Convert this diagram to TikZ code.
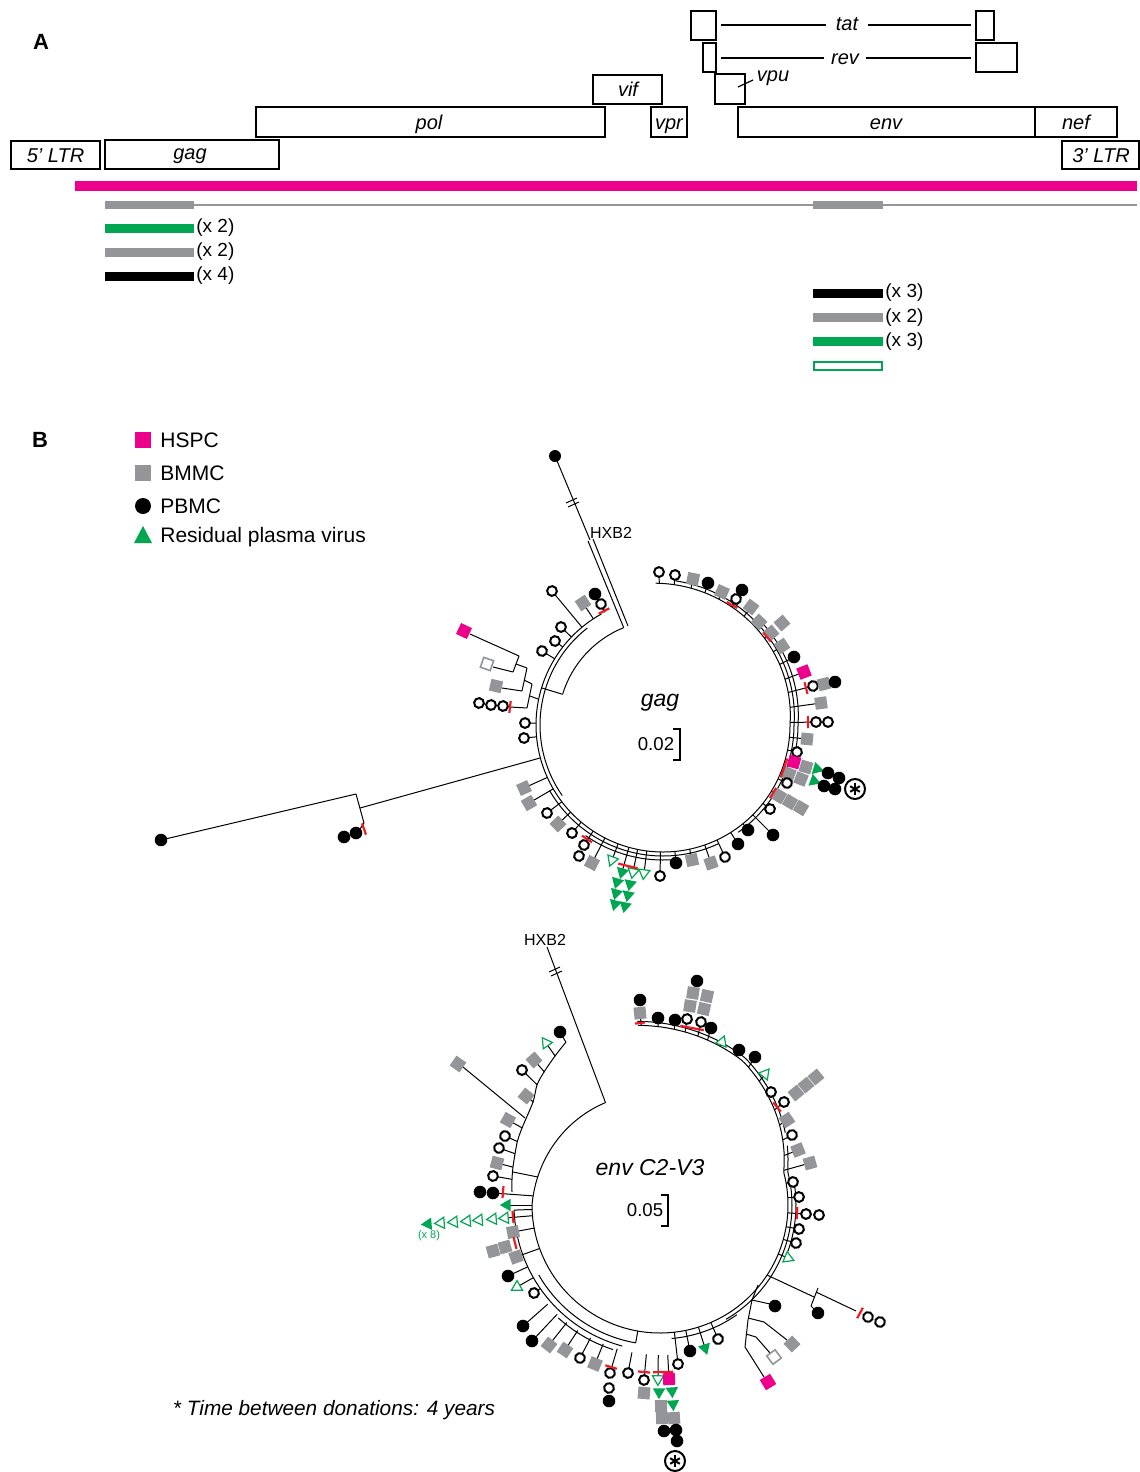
\documentclass[tikz,border=0pt]{standalone}
\usepackage{fontspec}
\setmainfont{Liberation Sans}
\usetikzlibrary{calc,shapes.geometric}
\definecolor{hspc}{HTML}{EC008C}
\definecolor{bmg}{HTML}{939598}
\definecolor{grn}{HTML}{00A651}
\definecolor{rtk}{HTML}{ED1C24}
\tikzset{
  br/.style={line width=0.5pt, black},
  boxln/.style={line width=1pt, black},
  redtk/.style={line width=1.1pt, rtk},
  symb/.style={inner sep=0pt, outer sep=0pt},
  pb/.style={symb, circle, fill=black, minimum size=6.3pt},
  opb/.style={symb, circle, draw=black, fill=white, line width=1pt, minimum size=4.9pt},
  bm/.style={symb, rectangle, fill=bmg, minimum size=6pt},
  obm/.style={symb, rectangle, draw=bmg, fill=white, line width=0.8pt, minimum size=5.2pt},
  hs/.style={symb, rectangle, fill=hspc, minimum size=6pt},
  tri/.style={symb, regular polygon, regular polygon sides=3, shape border rotate=-90, fill=grn, minimum size=7.2pt},
  otri/.style={symb, regular polygon, regular polygon sides=3, shape border rotate=-90, draw=grn, fill=white, line width=0.6pt, minimum size=6.4pt},
  glab/.style={font=\fontsize{10}{12}\selectfont\itshape, inner sep=0pt, anchor=base},
  xlab/.style={font=\fontsize{9.5}{11}\selectfont, inner sep=0pt, anchor=west},
  leg/.style={font=\fontsize{10.5}{12}\selectfont, inner sep=0pt, anchor=base west},
  panel/.style={font=\fontsize{11}{12}\selectfont\bfseries, inner sep=0pt},
}
% leaf with stalk from backbone function bb
\newcommand\leafS[3]{%
  \draw[br] let \p1=($(#2,#3)-(ctr)$), \n1={atan2(\y1,\x1)}, \n2={-1*(\n1)},
    \n3={(\n2<-100)*360+\n2}, \n5={bb(\n3)*0.5} in
    ($(ctr)+(\n1:\n5*1pt)$) -- (#2,#3) node[#1, rotate=\n1] {};}
% leaf with stalk from given radius
\newcommand\leafR[4]{%
  \draw[br] let \p1=($(#3,#4)-(ctr)$), \n1={atan2(\y1,\x1)} in
    ($(ctr)+(\n1:#1*0.5pt)$) -- (#3,#4) node[#2, rotate=\n1] {};}
% leaf symbol only
\newcommand\leafN[3]{%
  \path let \p1=($(#2,#3)-(ctr)$), \n1={atan2(\y1,\x1)} in
    (#2,#3) node[#1, rotate=\n1] {};}
% red tick, tangential
\newcommand\rtick[3]{%
  \draw[redtk] let \p1=($(#1,#2)-(ctr)$), \n1={atan2(\y1,\x1)+90} in
    ($(#1,#2)+(\n1:#3*0.5pt)$) -- ($(#1,#2)+(\n1+180:#3*0.5pt)$);}
% asterisk in circle
\newcommand\astk[2]{%
  \node[circle, draw, line width=1pt, minimum size=10pt, inner sep=0pt] at (#1,#2) {};
  \foreach \a in {90,30,150} \draw[line width=1pt] ($(#1,#2)+(\a:2.8pt)$) -- ($(#1,#2)+(\a+180:2.8pt)$);}

\begin{document}
\begin{tikzpicture}[x=0.5pt,y=-0.5pt]
\useasboundingbox (0,0) rectangle (1140,1472);
\fill[white] (0,0) rectangle (1140,1472);

%% ---------------- Panel A ----------------
\node[panel] (labA) at (41,42) {A};
\draw[boxln] (11,141) rectangle (100,169);
\node[glab] (tLTR5) at (55.5,162) {5’ LTR};
\draw[boxln] (105,140) rectangle (279,169);
\node[glab] (tgag) at (190,159) {gag};
\draw[boxln] (256,107) rectangle (605,137);
\node[glab] (tpol) at (429,129) {pol};
\draw[boxln] (593,75) rectangle (662,104);
\node[glab] (tvif) at (628,96) {vif};
\draw[boxln] (651,107) rectangle (687,137);
\node[glab] (tvpr) at (669,129) {vpr};
\draw[boxln] (715,74) rectangle (745,104);
\node[glab] (tvpu) at (773,81) {vpu};
\draw[line width=0.6pt] (753,80) -- (738,87);
\draw[boxln] (691,11) rectangle (716,40);
\draw[boxln] (976,11) rectangle (994,40);
\draw[line width=0.7pt] (721,25) -- (826,25);
\draw[line width=0.7pt] (868,25) -- (971,25);
\node[glab] (ttat) at (847,31) {tat};
\draw[boxln] (703,43) rectangle (716,72);
\draw[boxln] (976,43) rectangle (1017,72);
\draw[line width=0.7pt] (721,58) -- (824,58);
\draw[line width=0.7pt] (866,58) -- (971,58);
\node[glab] (trev) at (845,64) {rev};
\draw[boxln] (738,107) rectangle (1035,137);
\node[glab] (tenv) at (886,129) {env};
\draw[boxln] (1035,107) rectangle (1117,137);
\node[glab] (tnef) at (1076,129) {nef};
\draw[boxln] (1062,141) rectangle (1139,169);
\node[glab] (tLTR3) at (1101,162) {3’ LTR};

\fill[hspc] (75,181) rectangle (1137,191);
\draw[bmg, line width=0.8pt] (194,205) -- (1137,205);
\fill[bmg] (105,201) rectangle (194,209);
\fill[bmg] (813,201) rectangle (883,209);

\fill[grn] (105,224) rectangle (194,233);
\node[xlab] (l1) at (196,228) {(x 2)};
\fill[bmg] (105,248) rectangle (194,257);
\node[xlab] (l2) at (196,252) {(x 2)};
\fill[black] (105,272) rectangle (194,281);
\node[xlab] (l3) at (196,276) {(x 4)};

\fill[black] (813,289) rectangle (883,298);
\node[xlab] (r1) at (885,293) {(x 3)};
\fill[bmg] (813,313) rectangle (883,322);
\node[xlab] (r2) at (885,318) {(x 2)};
\fill[grn] (813,337) rectangle (883,346);
\node[xlab] (r3) at (885,342) {(x 3)};
\draw[grn, line width=1pt] (814,362) rectangle (882,370);

%% ---------------- Panel B legend ----------------
\node[panel] (labB) at (40,440) {B};
\node[symb, rectangle, fill=hspc, minimum size=8pt] (lg1) at (143,440) {};
\node[leg] (lt1) at (160,447) {HSPC};
\node[symb, rectangle, fill=bmg, minimum size=8pt] (lg2) at (143,473) {};
\node[leg] (lt2) at (160,480) {BMMC};
\node[symb, circle, fill=black, minimum size=8pt] (lg3) at (143,506) {};
\node[leg] (lt3) at (160,513) {PBMC};
\fill[grn] (134,543) -- (152,543) -- (143,526) -- cycle;
\node[leg] (lt4) at (160,542) {Residual plasma virus};

%% ---------------- gag tree ----------------
\begin{scope}[declare function={bb(\t)=127+15*max(0,0-(\t))/93;}]
\coordinate (ctr) at (663,725);
\draw[br] plot[domain=-93:241, samples=160, smooth, variable=\t] ({663+bb(\t)*cos(\t)},{725+bb(\t)*sin(\t)});
\draw[br] plot[domain=-85:55, samples=60, smooth, variable=\t] ({663+(bb(\t)+4)*cos(\t)},{725+(bb(\t)+4)*sin(\t)});
\draw[br] plot[domain=65:150, samples=40, smooth, variable=\t] ({663+(bb(\t)+4)*cos(\t)},{725+(bb(\t)+4)*sin(\t)});
\draw[br] plot[domain=-45:15, samples=30, smooth, variable=\t] ({663+(bb(\t)+8)*cos(\t)},{725+(bb(\t)+8)*sin(\t)});
\draw[br] plot[domain=85:125, samples=20, smooth, variable=\t] ({663+(bb(\t)+8)*cos(\t)},{725+(bb(\t)+8)*sin(\t)});
\draw[br] plot[domain=145:232, samples=40, smooth, variable=\t] ({663+(bb(\t)-4)*cos(\t)},{725+(bb(\t)-4)*sin(\t)});
% inner clade arc and HXB2
\draw[br] (ctr) ++(197:105) arc[start angle=197, end angle=248, radius=105];
\draw[br] ($(ctr)+(197:105)$) -- ($(ctr)+(197:127)$);
\draw[br] (623.7,627.6) -- (588,541);
\draw[br] (628,626) -- (593,539);
\draw[br] (590,540) -- (555,456);
\draw[br] (566,503) -- (577,498);
\draw[br] (568,507) -- (579,502);
\node[symb, circle, fill=black, minimum size=6pt] (gHXdot) at (555,456) {};
\node[font=\fontsize{8}{9}\selectfont, inner sep=0pt] (gHX) at (611,533) {HXB2};
% left subtree
\draw[br] (530,696) -- (538,699);
\draw[br] (532,684) -- (527,708);
\draw[br] (510,707) -- (527,708);
\draw[br] (527,668) -- (522,691);
\draw[br] (524,680) -- (532,684);
\draw[br] (502,688) -- (522,691);
\draw[br] (519,656) -- (513,672);
\draw[br] (516,664) -- (527,668);
\draw[br] (470,634) -- (519,656);
\draw[br] (493,667) -- (513,672);
\leafN{hs}{464}{631}
\leafN{obm}{487}{664}
\leafN{bm}{496}{686}
\leafN{opb}{503}{706}
\leafN{opb}{491}{705}
\leafN{opb}{479}{703}
\rtick{510}{707}{6}
% long branch
\draw[br] (540,758) -- (360,808);
\draw[br] (356,794) -- (364,823);
\draw[br] (356,794) -- (161,840);
\draw[br] (364,823) -- (358,832);
\leafN{pb}{161}{840}
\leafN{pb}{356}{833}
\leafN{pb}{344}{837}
\rtick{364}{829}{6}
% leaves
\leafS{opb}{659}{572}
\leafS{opb}{675}{575}
\leafS{bm}{693}{579}
\leafS{pb}{708}{583}
\leafS{bm}{722}{592}
\leafS{pb}{742}{590}
\leafS{opb}{736}{599}
\leafS{bm}{751}{607}
\leafS{bm}{759}{622}
\leafS{bm}{771}{633}
\leafN{bm}{782}{623}
\leafS{bm}{782}{646}
\leafS{pb}{794}{657}
\leafS{hs}{804}{672}
\leafS{opb}{813}{686}
\leafN{bm}{824}{684}
\leafN{pb}{835}{682}
\leafS{bm}{821}{703}
\leafS{opb}{816}{722}
\leafN{opb}{828}{722}
\leafS{bm}{807}{739}
\leafS{opb}{797}{752}
\leafS{hs}{794}{762}
\leafS{bm}{789}{774}
\leafN{bm}{806}{767}
\leafN{bm}{801}{779}
\leafN{tri}{817}{769}
\leafN{tri}{814}{781}
\leafN{pb}{828}{773}
\leafN{pb}{839}{778}
\leafN{pb}{824}{786}
\leafN{pb}{835}{789}
\astk{855}{789}
\leafS{opb}{787}{783}
\leafS{bm}{779}{796}
\leafN{bm}{790}{802}
\leafN{bm}{801}{808}
\leafS{opb}{770}{809}
\leafS{pb}{773}{835}
\leafS{pb}{748}{830}
\leafS{pb}{738}{844}
\leafS{opb}{725}{857}
\leafS{bm}{711}{863}
\leafS{bm}{692}{860}
\leafS{pb}{676}{863}
\leafS{opb}{660}{876}
\leafS{otri}{644}{873}
\leafS{otri}{633}{872}
\leafS{tri}{622}{872}
\leafN{tri}{630}{884}
\leafN{tri}{617}{882}
\leafN{tri}{628}{895}
\leafN{tri}{616}{893}
\leafN{tri}{625}{906}
\leafN{tri}{615}{904}
\leafS{otri}{612}{860}
\leafS{bm}{592}{863}
\leafS{opb}{584}{845}
\leafN{opb}{579}{856}
\leafS{opb}{572}{833}
\leafS{bm}{558}{824}
\leafS{opb}{547}{813}
\leafS{bm}{529}{803}
\leafS{bm}{524}{788}
\leafS{opb}{524}{738}
\leafS{opb}{525}{723}
\leafS{opb}{542}{651}
\leafS{opb}{555}{641}
\leafS{opb}{561}{627}
\leafS{opb}{552}{591}
\leafS{bm}{583}{603}
\leafS{pb}{595}{594}
\leafS{opb}{601}{604}
% red ticks
\rtick{732}{605}{6}
\rtick{767}{637}{6}
\rtick{806}{688}{6}
\rtick{808}{722}{6}
\rtick{784}{768}{10}
\rtick{773}{793}{6}
\rtick{628}{866}{10}
\rtick{587}{839}{6}
\rtick{604}{611}{6}
\end{scope}
\node[font=\fontsize{11.5}{13}\selectfont\itshape, inner sep=0pt] (gagT) at (660,703) {gag};
\node[font=\fontsize{9.3}{11}\selectfont, inner sep=0pt] (gagS) at (656,744) {0.02};
\draw[line width=0.6pt] (673,729) -- (680,729) -- (680,760) -- (673,760);

%% ---------------- env tree ----------------
\begin{scope}[declare function={bb(\t)=ifthenelse(\t<-60,181-(\t+97)*15/37,ifthenelse(\t<-15,166-(\t+60)*38/45,ifthenelse(\t<180,128,128-(\t-180)*12/62)));}]
\coordinate (ctr) at (660,1205);
\draw[br] plot[domain=-97:242, samples=170, smooth, variable=\t] ({660+bb(\t)*cos(\t)},{1205+bb(\t)*sin(\t)});
\draw[br] plot[domain=-97:-30, samples=40, smooth, variable=\t] ({660+(bb(\t)+4)*cos(\t)},{1205+(bb(\t)+4)*sin(\t)});
\draw[br] plot[domain=-25:60, samples=40, smooth, variable=\t] ({660+(bb(\t)+4)*cos(\t)},{1205+(bb(\t)+4)*sin(\t)});
\draw[br] plot[domain=-12:20, samples=20, smooth, variable=\t] ({660+(bb(\t)+8)*cos(\t)},{1205+(bb(\t)+8)*sin(\t)});
\draw[br] (ctr) ++(100:140) arc[start angle=100, end angle=150, radius=140];
\draw[br] ($(ctr)+(100:128)$) -- ($(ctr)+(100:140)$);
\draw[br] (ctr) ++(105:146) arc[start angle=105, end angle=178, radius=146];
\draw[br] ($(ctr)+(178:128)$) -- ($(ctr)+(178:146)$);
\draw[br] (ctr) ++(108:152) arc[start angle=108, end angle=132, radius=152];
\draw[br] (ctr) ++(55:134) arc[start angle=55, end angle=85, radius=134];
% HXB2
\draw[br] (605.5,1102.6) -- (547,947);
\draw[br] (549,972) -- (560,967);
\draw[br] (551,976) -- (562,971);
\node[font=\fontsize{8}{9}\selectfont, inner sep=0pt] (eHX) at (545,940) {HXB2};
% left clade
\draw[br] plot[smooth] coordinates {(512,1192) (512,1179) (513,1167) (515,1154) (517.5,1141) (522,1128) (533,1102) (537,1085) (544,1072) (555,1056) (566,1042)};
\draw[br] (513,1172) -- (538,1177);
\draw[br] (525,1118) -- (463,1067);
\leafN{bm}{458}{1064}
\leafR{150}{opb}{493}{1176}
\leafR{152}{bm}{497}{1163}
\leafR{154}{opb}{499}{1148}
\leafR{156}{opb}{505}{1136}
\leafR{158}{bm}{508}{1120}
\leafR{163}{bm}{526}{1096}
\leafR{172}{opb}{522}{1070}
\leafR{176}{bm}{534}{1060}
\leafR{182}{otri}{546}{1043}
\leafR{188}{pb}{560}{1032}
% right subtree
\draw[br] (767,1275) -- (814,1297);
\draw[br] (818,1288) -- (811,1306);
\draw[br] (816,1292) -- (856,1311);
\draw[br] (811,1306) -- (816,1311);
\leafN{opb}{868}{1317}
\leafN{opb}{880}{1322}
\leafN{pb}{818}{1313}
% bottom-right subtree
\draw[br] (758,1285) -- (752,1300) -- (748,1320) -- (745,1347);
\draw[br] (752,1300) -- (770,1304);
\draw[br] (748,1318) -- (764,1322) -- (787,1340);
\draw[br] (746,1334) -- (756,1337) -- (770,1353);
\draw[br] (745,1347) -- (764,1377);
\leafN{pb}{775}{1306}
\leafN{bm}{792}{1344}
\leafN{obm}{774}{1357}
\leafN{hs}{768}{1382}
% top-right leaves
\leafS{bm}{640}{1013}
\leafN{pb}{640}{1000}
\leafS{pb}{658}{1018}
\leafS{pb}{675}{1020}
\leafS{opb}{687}{1019}
\leafS{opb}{701}{1022}
\leafN{bm}{690}{1006}
\leafN{bm}{704}{1009}
\leafN{bm}{693}{993}
\leafN{bm}{707}{996}
\leafN{pb}{697}{981}
\leafS{pb}{711}{1028}
\leafS{otri}{722}{1042}
\leafS{pb}{739}{1050}
\leafS{pb}{755}{1057}
\leafS{otri}{765}{1074}
\leafS{opb}{771}{1092}
\leafS{opb}{784}{1102}
\leafN{bm}{796}{1093}
\leafN{bm}{806}{1085}
\leafN{bm}{816}{1077}
\leafS{bm}{787}{1120}
\leafS{opb}{792}{1135}
\leafS{bm}{798}{1150}
\leafS{bm}{810}{1163}
\leafS{opb}{793}{1182}
\leafS{opb}{799}{1197}
\leafS{opb}{806}{1214}
\leafN{opb}{819}{1215}
\leafS{opb}{799}{1229}
\leafS{opb}{796}{1243}
\leafS{otri}{788}{1258}
% bottom leaves
\leafS{opb}{718}{1339}
\leafS{tri}{705}{1348}
\leafS{pb}{690}{1351}
\leafS{opb}{678}{1364}
\leafR{150}{otri}{658}{1379}
\leafR{150}{hs}{669}{1379}
\leafN{tri}{659}{1392}
\leafN{tri}{672}{1391}
\leafN{tri}{673}{1404}
\leafN{bm}{661}{1406}
\leafN{bm}{662}{1418}
\leafN{bm}{674}{1418}
\leafN{pb}{664}{1431}
\leafN{pb}{676}{1430}
\leafN{pb}{677}{1441}
\astk{675}{1461}
\leafR{150}{opb}{644}{1380}
\leafN{bm}{644}{1393}
\leafR{150}{opb}{628}{1373}
\leafR{150}{opb}{610}{1373}
\leafN{opb}{609}{1388}
\leafN{pb}{609}{1401}
\leafR{150}{bm}{595}{1364}
\leafR{150}{opb}{580}{1358}
\leafR{150}{bm}{565}{1350}
\leafR{150}{bm}{549}{1345}
\leafR{150}{pb}{532}{1341}
\leafR{150}{pb}{523}{1326}
% left leaves
\leafR{146}{opb}{534}{1293}
\leafR{146}{otri}{517}{1287}
\leafR{146}{pb}{508}{1276}
\leafS{bm}{516}{1257}
\leafN{bm}{505}{1247}
\leafN{bm}{493}{1251}
\leafS{bm}{513}{1232}
\leafS{otri}{505}{1218}
\leafN{otri}{493}{1219}
\leafN{otri}{479}{1220}
\leafN{otri}{467}{1221}
\leafN{otri}{454}{1222}
\leafN{otri}{441}{1223}
\leafN{tri}{428}{1224}
\leafS{tri}{507}{1205}
\leafS{pb}{493}{1193}
\leafN{pb}{480}{1192}
% red ticks
\rtick{640}{1023}{5}
\rtick{692}{1028}{12}
\rtick{777}{1107}{6}
\rtick{797}{1213}{6}
\rtick{860}{1313}{6}
\rtick{663}{1372}{10}
\rtick{644}{1372}{6}
\rtick{611}{1367}{6}
\rtick{515}{1243}{6}
\rtick{513}{1217}{6}
\rtick{503}{1192}{6}
\end{scope}
\node[font=\fontsize{5.5}{6}\selectfont, text=grn, inner sep=0pt] (x8) at (429,1236) {(x 8)};
\node[font=\fontsize{11.5}{13}\selectfont\itshape, inner sep=0pt] (envT) at (650,1168) {env C2-V3};
\node[font=\fontsize{9.3}{11}\selectfont, inner sep=0pt] (envS) at (645,1210) {0.05};
\draw[line width=0.6pt] (661,1195) -- (668,1195) -- (668,1226) -- (661,1226);

\node[font=\fontsize{10.4}{12}\selectfont\itshape, inner sep=0pt] (note) at (334,1410) {* Time between donations: 4 years};
\end{tikzpicture}
\end{document}
